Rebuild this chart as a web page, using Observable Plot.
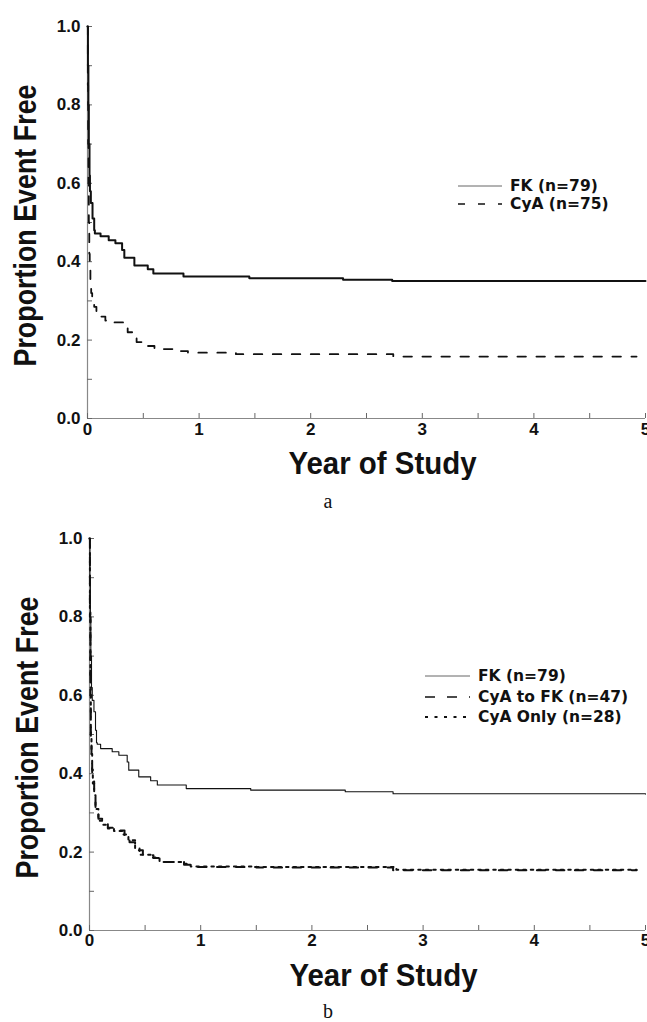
<!DOCTYPE html>
<html>
<head>
<meta charset="utf-8">
<script src="https://cdn.jsdelivr.net/npm/d3@7"></script>
<script src="https://cdn.jsdelivr.net/npm/@observablehq/plot@0.6"></script>
<style>
  body { margin: 0; background: #fff; }
  #wrap { position: relative; width: 647px; height: 1022px; overflow: hidden; background: #fff; }
  .chart { position: absolute; left: 0; }
  .legend { position: absolute; font-family: "DejaVu Sans", sans-serif; font-weight: bold; font-size: 15.5px; color: #111; }
  .legend .row { display: flex; align-items: center; white-space: nowrap; }
  .legend svg { flex: none; margin-right: 8px; }
  .caption { position: absolute; width: 40px; text-align: center; font-family: "Liberation Serif", serif; font-size: 20px; line-height: 22px; color: #111; }
</style>
</head>
<body>
<div id="wrap">
  <div id="chartA" class="chart" style="top:0px"></div>
  <div class="caption" style="left:308px; top:490px">a</div>
  <div id="chartB" class="chart" style="top:512px"></div>
  <div class="caption" style="left:308px; top:1000px">b</div>
  <div id="legA" class="legend" style="left:458px; top:177px"></div>
  <div id="legB" class="legend" style="left:425px; top:666px"></div>
</div>
<script>
// ---------- data ----------
const xTitle = "Year of Study";
const yTitle = "Proportion Event Free";
const xTicks = [0, 1, 2, 3, 4, 5];
const xMinorTicks = [0, 0.5, 1, 1.5, 2, 2.5, 3, 3.5, 4, 4.5, 5];
const yTicks = [0, 0.2, 0.4, 0.6, 0.8, 1.0];
const yMinorTicks = [0, 0.1, 0.2, 0.3, 0.4, 0.5, 0.6, 0.7, 0.8, 0.9, 1.0];

// Panel a
const aFKTime = [0, 0.004, 0.008, 0.012, 0.018, 0.022, 0.03, 0.045, 0.06, 0.066, 0.117, 0.19, 0.25, 0.31, 0.33, 0.42, 0.54, 0.59, 0.86, 1.45, 2.29, 2.73, 5];
const aFKSurv = [1.0, 0.9, 0.8, 0.7, 0.62, 0.58, 0.55, 0.51, 0.48, 0.472, 0.465, 0.455, 0.447, 0.43, 0.41, 0.39, 0.381, 0.37, 0.362, 0.358, 0.354, 0.351, 0.351];
const aCyATime = [0, 0.003, 0.006, 0.009, 0.012, 0.016, 0.02, 0.026, 0.033, 0.042, 0.06, 0.08, 0.11, 0.16, 0.24, 0.33, 0.36, 0.4, 0.44, 0.53, 0.6, 0.81, 0.9, 1.33, 2.74, 4.92];
const aCyASurv = [1.0, 0.85, 0.7, 0.6, 0.5, 0.42, 0.38, 0.35, 0.32, 0.30, 0.285, 0.27, 0.26, 0.25, 0.245, 0.235, 0.22, 0.205, 0.195, 0.185, 0.177, 0.172, 0.168, 0.164, 0.158, 0.158];

// Panel b
const bFKTime = [0, 0.004, 0.008, 0.012, 0.018, 0.025, 0.04, 0.054, 0.063, 0.07, 0.10, 0.204, 0.264, 0.339, 0.353, 0.443, 0.55, 0.61, 0.87, 1.45, 2.3, 2.73, 5];
const bFKSurv = [1.0, 0.9, 0.8, 0.7, 0.62, 0.587, 0.558, 0.511, 0.479, 0.475, 0.464, 0.456, 0.447, 0.43, 0.409, 0.392, 0.382, 0.371, 0.362, 0.358, 0.354, 0.349, 0.348];
const bToFKTime = [0, 0.004, 0.008, 0.012, 0.018, 0.024, 0.03, 0.042, 0.054, 0.08, 0.114, 0.165, 0.22, 0.315, 0.36, 0.41, 0.48, 0.575, 0.63, 0.85, 0.91, 1.5, 2.73, 4.92];
const bToFKSurv = [1.0, 0.8, 0.6, 0.48, 0.44, 0.4, 0.375, 0.34, 0.315, 0.285, 0.273, 0.262, 0.255, 0.243, 0.225, 0.205, 0.192, 0.185, 0.175, 0.168, 0.162, 0.161, 0.154, 0.154];
const bOnlyTime = [0, 0.004, 0.008, 0.012, 0.018, 0.024, 0.03, 0.042, 0.054, 0.08, 0.114, 0.165, 0.22, 0.3, 0.35, 0.41, 0.45, 0.55, 0.63, 0.85, 0.91, 1.5, 2.76, 4.92];
const bOnlySurv = [1.0, 0.82, 0.62, 0.5, 0.45, 0.41, 0.38, 0.345, 0.31, 0.28, 0.27, 0.26, 0.254, 0.245, 0.23, 0.21, 0.193, 0.186, 0.175, 0.17, 0.163, 0.162, 0.155, 0.155];

const legendA = [
  {label: "FK (n=79)", dash: null, width: 1, color: "#666"},
  {label: "CyA (n=75)", dash: "7,13", width: 1.6, color: "#111"}
];
const legendB = [
  {label: "FK (n=79)", dash: null, width: 1, color: "#666"},
  {label: "CyA to FK (n=47)", dash: "10,12", width: 1.6, color: "#111"},
  {label: "CyA Only (n=28)", dash: "3,6.5", width: 2, color: "#111"}
];

// ---------- helpers ----------
const toRows = (ts, vs) => ts.map((t, i) => ({t, v: vs[i]}));

function makeChart(series, marginLeft, tickPad) {
  const svg = Plot.plot({
    width: 647,
    height: 480,
    marginTop: 26,
    marginBottom: 62,
    marginLeft,
    marginRight: 2,
    style: {fontFamily: "'Liberation Sans', Arial, sans-serif", fontSize: "17px", color: "#111", background: "#fff"},
    x: {domain: [0, 5]},
    y: {domain: [0, 1]},
    marks: [
      Plot.ruleY([0], {stroke: "#888", strokeWidth: 1.2}),
      Plot.ruleX([0], {stroke: "#888", strokeWidth: 1.2}),
      Plot.axisY({ticks: yMinorTicks, tickSize: -5, tickFormat: () => "", label: null, stroke: "#666"}),
      Plot.axisY({ticks: yTicks, tickSize: 0, tickPadding: 7, tickFormat: d3.format(".1f"), label: null, fontWeight: "bold", fontSize: 17, fill: "#111"}),
      Plot.axisX({ticks: xMinorTicks, tickSize: -5, tickFormat: () => "", label: null, stroke: "#666"}),
      Plot.axisX({ticks: xTicks, tickSize: 0, tickPadding: tickPad, tickFormat: d3.format("d"), label: null, fontWeight: "bold", fontSize: 17, fill: "#111"}),
      ...series.map(s => Plot.line(toRows(s.t, s.v), {
        x: "t", y: "v", curve: "step-after",
        stroke: "#111", strokeWidth: s.width, strokeDasharray: s.dash
      })),
      Plot.text([xTitle], {frameAnchor: "bottom", textAnchor: "middle", lineAnchor: "middle", dx: 16, dy: 45, text: d => d, fontSize: 32, fontWeight: "bold", fill: "#111"}),
      Plot.text([yTitle], {frameAnchor: "left", textAnchor: "middle", lineAnchor: "middle", dx: -62, dy: 3, rotate: -90, text: d => d, fontSize: 32, fontWeight: "bold", fill: "#111"})
    ]
  });
  svg.querySelectorAll("text").forEach(el => {
    if (el.textContent === xTitle) { el.setAttribute("textLength", 188); el.setAttribute("lengthAdjust", "spacingAndGlyphs"); }
    if (el.textContent === yTitle) { el.setAttribute("textLength", 282); el.setAttribute("lengthAdjust", "spacingAndGlyphs"); }
  });
  return svg;
}

function makeLegend(el, items, lineW, rowH) {
  items.forEach(it => {
    const row = document.createElement("div");
    row.className = "row";
    row.style.height = rowH + "px";
    const ns = "http://www.w3.org/2000/svg";
    const s = document.createElementNS(ns, "svg");
    s.setAttribute("width", lineW); s.setAttribute("height", 6);
    const ln = document.createElementNS(ns, "line");
    ln.setAttribute("x1", 0); ln.setAttribute("x2", lineW);
    ln.setAttribute("y1", 3); ln.setAttribute("y2", 3);
    ln.setAttribute("stroke", it.color);
    ln.setAttribute("stroke-width", it.width);
    if (it.dash) ln.setAttribute("stroke-dasharray", it.dash);
    s.appendChild(ln);
    row.appendChild(s);
    const tx = document.createElement("span");
    tx.textContent = it.label;
    row.appendChild(tx);
    el.appendChild(row);
  });
}

document.getElementById("chartA").appendChild(makeChart([
  {t: aFKTime, v: aFKSurv, width: 2, dash: null},
  {t: aCyATime, v: aCyASurv, width: 1.8, dash: "8.5,10.5"}
], 87, 4));

document.getElementById("chartB").appendChild(makeChart([
  {t: bFKTime, v: bFKSurv, width: 1.1, dash: null},
  {t: bToFKTime, v: bToFKSurv, width: 2, dash: "8.5,10.5"},
  {t: bOnlyTime, v: bOnlySurv, width: 2, dash: "2.5,5"}
], 89, 3));

makeLegend(document.getElementById("legA"), legendA, 44, 18);
makeLegend(document.getElementById("legB"), legendB, 45, 20.5);
</script>
</body>
</html>
